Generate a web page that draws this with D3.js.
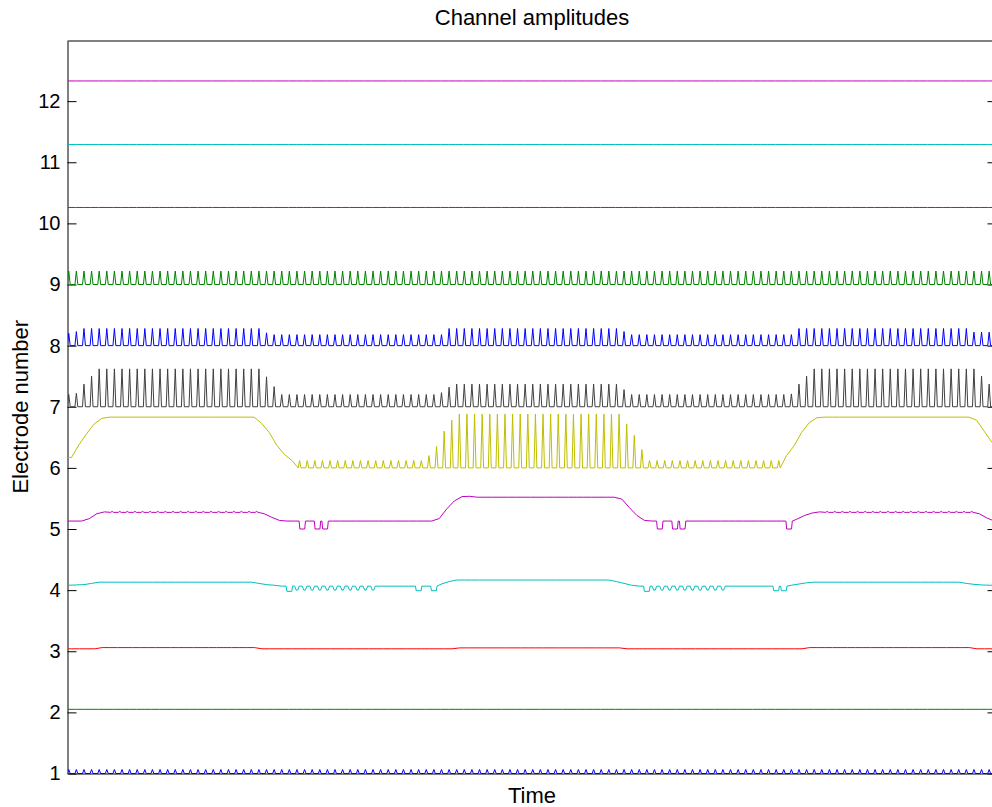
<!DOCTYPE html>
<html>
<head>
<meta charset="utf-8">
<script src="https://cdn.jsdelivr.net/npm/d3@7"></script>
<style>
  html, body { margin: 0; padding: 0; background: #ffffff; }
  svg { display: block; font-family: "Liberation Sans", Arial, Helvetica, sans-serif; }
</style>
</head>
<body>
<svg id="chart" width="992" height="807"></svg>
<script>
// ---- data -------------------------------------------------------------
const chartTitle = "Channel amplitudes";
const xLabel = "Time";
const yLabel = "Electrode number";

// electrode numbers shown on the y axis
const yTicks = [1, 2, 3, 4, 5, 6, 7, 8, 9, 10, 11, 12];

// number of stimulation periods along the time axis
const periodCount = 122;

// line colour of each electrode trace (MATLAB colour order)
const lineColors = ["#0000ff", "#008000", "#ff0000", "#00bfbf", "#bf00bf", "#bfbf00", "#404040",
                    "#0000ff", "#008000", "#ff0000", "#00bfbf", "#bf00bf"];

// pulse position inside a period, per electrode
const pulsePhase = [0.1, 0, 0.5, 0.1, 0.8, 0.45, 0.1, 0.1, 0.1, 0, 0, 0];

// Runs of periods: [periods, resting level, pulse level, pulse shape]
// shape: "v" narrow spike (default), "u" rounded dip, "q" square pulse
// (no pulse level = steady level over those periods)
const ch1 = [[122, 1.0, 1.065]];
const ch2 = [[122, 2.05]];
const ch3 = [[4, 3.04], [21, 3.06], [26, 3.04], [22, 3.055], [24, 3.04], [22, 3.06], [3, 3.04]];
const ch4 = [
  [1, 4.08], [1, 4.085], [1, 4.09], [1, 4.11], [21, 4.13],
  [1, 4.11], [1, 4.09], [1, 4.08], [1, 4.065],
  [1, 4.065, 3.98, "q"], [11, 4.065, 4.0, "u"], [5, 4.065],
  [1, 4.065, 3.99, "q"], [1, 4.065], [1, 4.065, 3.99, "q"],
  [1, 4.1], [1, 4.14], [21, 4.165],
  [1, 4.14], [1, 4.11], [1, 4.08], [1, 4.065],
  [1, 4.065, 3.98, "q"], [10, 4.065, 4.0, "u"], [6, 4.065], [2, 4.065, 3.99, "q"],
  [1, 4.08], [1, 4.1], [1, 4.12], [20, 4.13],
  [1, 4.11], [1, 4.095], [1, 4.085], [1, 4.08]
];
const ch5 = [
  [2, 5.13], [1, 5.17], [1, 5.25], [1, 5.28],
  [20, 5.272, 5.288],
  [1, 5.25], [1, 5.19], [1, 5.14], [2, 5.13],
  [1, 5.13, 5.0, "q"], [1, 5.13], [2, 5.13, 5.0, "q"],
  [14, 5.13],
  [1, 5.17], [1, 5.33], [1, 5.46], [1, 5.53], [1, 5.535],
  [19, 5.52],
  [1, 5.49], [1, 5.35], [1, 5.22], [1, 5.14], [1, 5.13],
  [1, 5.13, 5.0, "q"], [1, 5.13], [2, 5.13, 5.0, "q"], [1, 5.13],
  [12, 5.13],
  [1, 5.13, 5.0, "q"],
  [1, 5.16], [1, 5.22], [1, 5.26], [1, 5.28],
  [20, 5.272, 5.288],
  [1, 5.25], [1, 5.18], [1, 5.13]
];
const ch6 = [
  [1, 6.17], [1, 6.38], [1, 6.56], [1, 6.72], [1, 6.81], [20, 6.83],
  [1, 6.73], [1, 6.58], [1, 6.37], [1, 6.22], [1, 6.12],
  [17, 6.0, 6.12],
  [1, 6.0, 6.2], [1, 6.0, 6.35], [1, 6.0, 6.6], [1, 6.0, 6.78],
  [22, 6.0, 6.88],
  [1, 6.0, 6.72], [1, 6.0, 6.53], [1, 6.0, 6.3],
  [18, 6.0, 6.12],
  [1, 6.2], [1, 6.36], [1, 6.58], [1, 6.74], [1, 6.82], [20, 6.83],
  [1, 6.78], [1, 6.6], [1, 6.42]
];
const ch7 = [
  [1, 7.0, 7.2], [1, 7.0, 7.22], [1, 7.0, 7.37], [1, 7.0, 7.5], [22, 7.0, 7.62],
  [1, 7.0, 7.49], [1, 7.0, 7.33], [21, 7.0, 7.2],
  [1, 7.0, 7.23], [1, 7.0, 7.32], [22, 7.0, 7.37],
  [1, 7.0, 7.28], [21, 7.0, 7.2],
  [1, 7.0, 7.21], [1, 7.0, 7.37], [1, 7.0, 7.5], [22, 7.0, 7.62],
  [1, 7.0, 7.5], [1, 7.0, 7.37]
];
const ch8 = [
  [1, 8.0, 8.2], [1, 8.0, 8.23], [24, 8.0, 8.28], [1, 8.0, 8.21], [23, 8.0, 8.18],
  [23, 8.0, 8.28], [1, 8.0, 8.23], [22, 8.0, 8.18], [23, 8.0, 8.28], [3, 8.0, 8.22]
];
const ch9 = [[122, 9.0, 9.22]];
const ch10 = [[122, 10.26]];
const ch11 = [[122, 11.29]];
const ch12 = [[122, 12.33]];

const channels = [ch1, ch2, ch3, ch4, ch5, ch6, ch7, ch8, ch9, ch10, ch11, ch12];

// ---- layout -----------------------------------------------------------
const plot = { left: 68, right: 996, top: 40, bottom: 773.5 };

const svg = d3.select("#chart");

const x = d3.scaleLinear().domain([0, periodCount]).range([plot.left, plot.right]);
const y = d3.scaleLinear().domain([1, 13]).range([plot.bottom, plot.top]);

// pulse outlines as [time offset, fraction of the pulse level]
const pulseShapes = {
  v: [[-0.19, 0], [0, 1], [0.19, 0]],
  u: [[-0.3, 0], [-0.1, 1], [0.1, 1], [0.3, 0]],
  q: [[-0.42, 0], [-0.32, 1], [0.32, 1], [0.42, 0]]
};

// one [time, level] list per electrode, one pulse per period
function tracePoints(runs, phase) {
  const periods = [];
  runs.forEach(([n, base, peak, shape]) => {
    for (let i = 0; i < n; i++) {
      periods.push({ base, peak: peak === undefined ? base : peak, shape: shape || "v" });
    }
  });
  const pts = [[0, periods[0].base]];
  periods.forEach((d, k) => {
    const t = k + phase;
    if (d.peak === d.base) {
      pts.push([t, d.base]);
    } else {
      pulseShapes[d.shape].forEach(([dt, f]) => pts.push([t + dt, d.base + f * (d.peak - d.base)]));
    }
  });
  pts.push([periodCount, periods[periods.length - 1].base]);
  return pts;
}

svg.append("defs").append("clipPath").attr("id", "plot-clip")
  .append("rect")
  .attr("x", plot.left).attr("y", plot.top)
  .attr("width", plot.right - plot.left).attr("height", plot.bottom - plot.top + 1.5);

// ---- axes box ---------------------------------------------------------
const axisColor = "#000000";
const tickFont = 20;
const labelFont = 22;

const leftAxis = d3.axisLeft(y).tickValues(yTicks).tickFormat(d3.format("d"))
  .tickSizeInner(-9).tickSizeOuter(0).tickPadding(7);
const rightAxis = d3.axisRight(y).tickValues(yTicks).tickFormat("")
  .tickSizeInner(-9).tickSizeOuter(0);
const bottomAxis = d3.axisBottom(x).tickValues([]).tickSizeOuter(0);
const topAxis = d3.axisTop(x).tickValues([]).tickSizeOuter(0);

function styleAxis(g) {
  g.selectAll("path.domain").attr("stroke", axisColor).attr("stroke-width", 1);
  g.selectAll(".tick line").attr("stroke", axisColor).attr("stroke-width", 1);
  g.selectAll(".tick text")
    .attr("fill", "#000")
    .style("font-size", tickFont + "px")
    .style("font-family", '"Liberation Sans", Arial, Helvetica, sans-serif');
}

svg.append("g").attr("transform", `translate(${plot.left - 0.5},0)`).call(leftAxis).call(styleAxis);
svg.append("g").attr("transform", `translate(${plot.right + 0.5},0)`).call(rightAxis).call(styleAxis);
svg.append("g").attr("transform", `translate(0,${plot.bottom})`).call(bottomAxis).call(styleAxis);
svg.append("g").attr("transform", `translate(0,${plot.top + 0.5})`).call(topAxis).call(styleAxis);

// ---- electrode traces -------------------------------------------------
const line = d3.line().x(d => x(d[0])).y(d => y(d[1]));

svg.append("g").attr("clip-path", "url(#plot-clip)")
  .selectAll("path.trace")
  .data(channels)
  .join("path")
  .attr("class", "trace")
  .attr("fill", "none")
  .attr("stroke", (d, i) => lineColors[i])
  .attr("stroke-width", 1)
  .attr("stroke-linejoin", "round")
  .attr("d", (d, i) => line(tracePoints(d, pulsePhase[i])));

// ---- titles -----------------------------------------------------------
svg.append("text")
  .attr("x", (plot.left + plot.right) / 2).attr("y", 25)
  .attr("text-anchor", "middle")
  .style("font-size", labelFont + "px").attr("fill", "#000")
  .text(chartTitle);

svg.append("text")
  .attr("x", (plot.left + plot.right) / 2).attr("y", 803)
  .attr("text-anchor", "middle")
  .style("font-size", labelFont + "px").attr("fill", "#000")
  .text(xLabel);

svg.append("text")
  .attr("transform", `translate(28,${(plot.top + plot.bottom) / 2}) rotate(-90)`)
  .attr("text-anchor", "middle")
  .style("font-size", labelFont + "px").attr("fill", "#000")
  .text(yLabel);
</script>
</body>
</html>
